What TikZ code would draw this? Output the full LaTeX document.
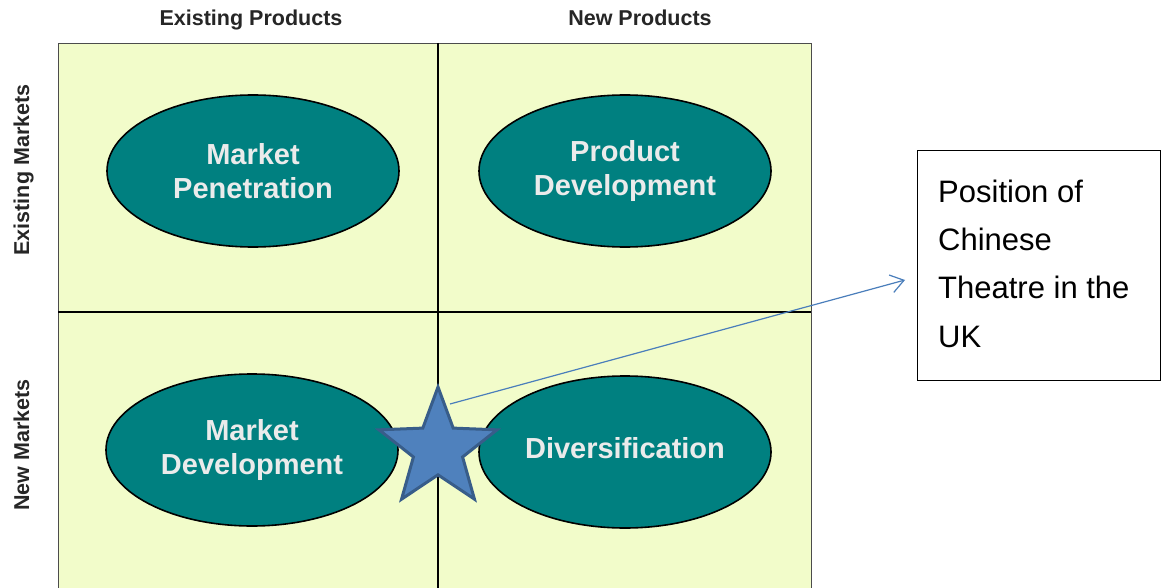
\documentclass[tikz,border=0pt]{standalone}
\usepackage{fontspec}
\setmainfont{Liberation Sans}
\usetikzlibrary{shapes.geometric,arrows.meta}
\definecolor{gridfill}{RGB}{242,252,202}
\definecolor{teal2}{RGB}{0,128,128}
\definecolor{starfill}{RGB}{79,129,189}
\definecolor{stardraw}{RGB}{56,93,138}
\definecolor{arrowc}{RGB}{74,126,187}
\definecolor{ovaltext}{RGB}{235,235,235}
\tikzset{
  oval/.style={ellipse, draw=black, line width=1.6pt, fill=teal2, minimum width=292pt, minimum height=152pt},
  ovaltxt/.style={text=ovaltext, font=\fontsize{29}{34}\selectfont\bfseries, align=center, inner sep=0pt},
  head/.style={font=\fontsize{21.5}{22}\selectfont\bfseries, text=black!85, inner sep=0pt},
  note/.style={draw=black, line width=1.2pt, fill=white, minimum width=243pt, minimum height=230pt, inner sep=0pt},
}
\begin{document}
\begin{tikzpicture}[x=1pt,y=-1pt]
\useasboundingbox (0,0) rectangle (1166,588);
\fill[white] (0,0) rectangle (1166,588);
% grid
\node[draw=black!70, line width=1.4pt, fill=gridfill, minimum width=753pt, minimum height=550pt, anchor=north west, inner sep=0pt] (grid) at (58,43) {};
\coordinate (vt) at (438,43);
\coordinate (vb) at (438,593);
\coordinate (hl) at (58,312);
\coordinate (hr) at (811,312);
\draw[black, line width=1.6pt] (vt) -- (vb);
\draw[black, line width=1.6pt] (hl) -- (hr);
% headers
\node[head, anchor=base] (h1) at (251,26) {Existing Products};
\node[head, anchor=base] (h2) at (640,26) {New Products};
\node[head, rotate=90, anchor=base] (h3) at (29,170) {Existing Markets};
\node[head, rotate=90, anchor=base] (h4) at (29,445) {New Markets};
% ovals
\node[oval] (mp) at (253,171) {};
\node[oval] (pd) at (625,171) {};
\node[oval] (md) at (252,450) {};
\node[oval] (dv) at (625,452) {};
\node[ovaltxt] (mpt) at (mp) {Market\\Penetration};
\node[ovaltxt] (pdt) at (pd) {Product\\Development};
\node[ovaltxt] (mdt) at (md) {Market\\Development};
\node[ovaltxt] (dvt) at (625,448) {Diversification};
% star
\node[star, star points=5, star point ratio=2.4, minimum size=124pt, inner sep=0pt, fill=starfill, draw=stardraw, line width=3pt] (st) at (438,449) {};
% note
\node[note, anchor=north west] (box) at (917,150) {};
\node[anchor=base west, align=left, font=\fontsize{31}{48.3}\selectfont, inner sep=0pt] (txt) at (938,347) {Position of\\Chinese\\Theatre in the\\UK};
\coordinate (tip) at (905,280);
\coordinate (tail) at (450,404);
\draw[arrowc, line width=1.2pt, -{Straight Barb[length=13pt, width=18pt, line width=1.2pt]}] (tail) -- (tip);
\end{tikzpicture}
\end{document}
